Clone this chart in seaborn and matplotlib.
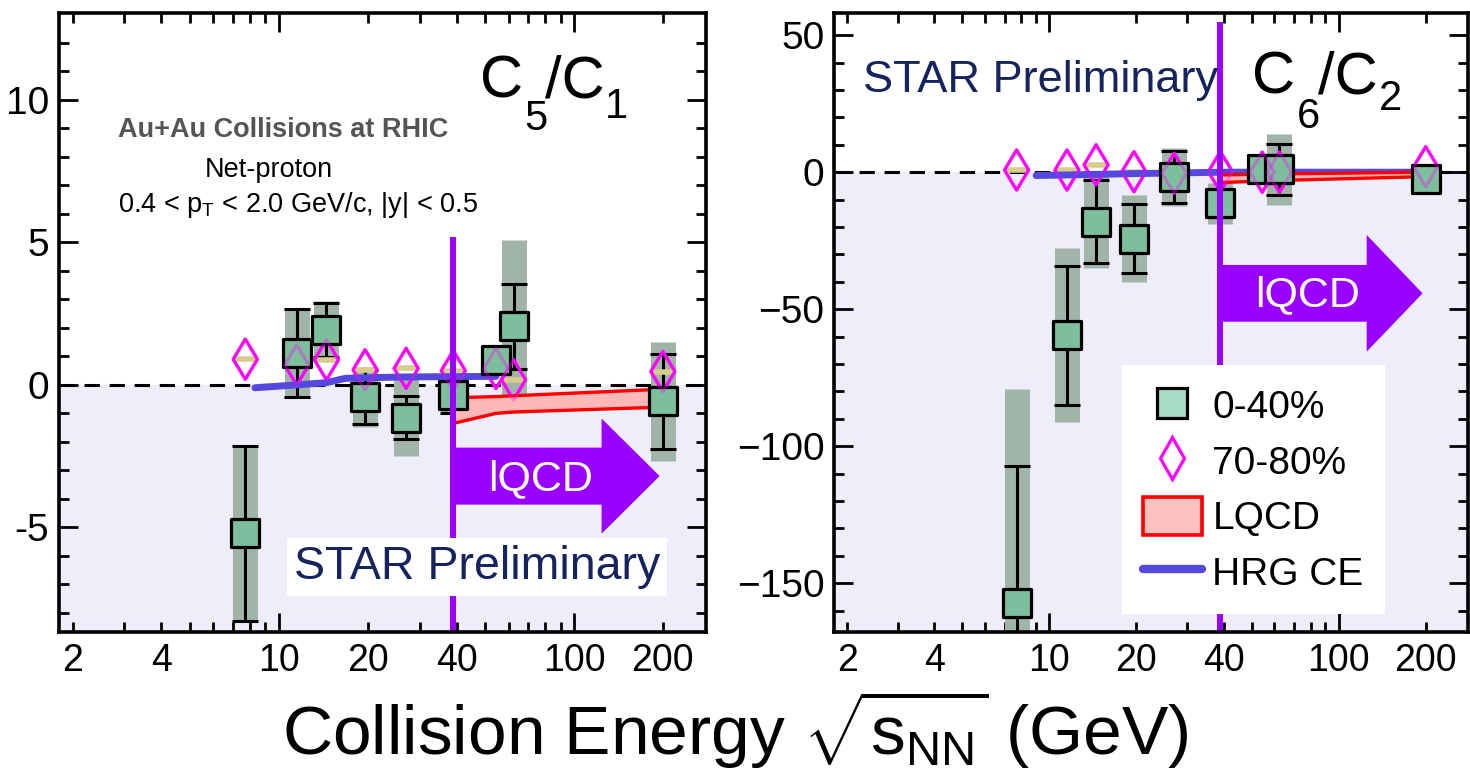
import numpy as np
import pandas as pd
import matplotlib
matplotlib.use("Agg")
import matplotlib.pyplot as plt
import seaborn as sns
from matplotlib.lines import Line2D
from matplotlib.patches import Patch
from matplotlib import font_manager as fm
from matplotlib.ticker import FixedLocator, FuncFormatter, NullFormatter

# ---------------- data ----------------
energies = [7.7, 11.5, 14.5, 19.6, 27, 39, 54.4, 62.4, 200]

# C5/C1, 0-40 %
c51_val = [-5.2, 1.13, 1.93, -0.41, -1.15, -0.35, 0.88, 2.05, -0.58]
c51_stat = [3.07, 1.55, 0.96, 0.95, 0.76, 0.65, 0.25, 1.5, 1.68]
c51_sys = [3.1, 1.55, 1.0, 1.05, 1.35, 0.65, 0.3, 3.05, 2.1]
# C5/C1, 70-80 %
c51_periph = [0.9, 0.7, 0.88, 0.53, 0.58, 0.5, 0.58, 0.18, 0.47]

# C6/C2, 0-40 %
c62_val = [-157.3, -59.5, -18.0, -24.2, -1.7, -11.4, 1.1, 1.1, -2.6]
c62_stat = [50.0, 25.3, 15.0, 12.5, 9.5, 5.0, 2.0, 9.3, 2.0]
c62_sys = [78.0, 31.7, 17.0, 16.0, 10.5, 7.5, 3.0, 13.0, 2.5]
# C6/C2, 70-80 %
c62_periph = [0.8, 0.8, 2.7, 0.2, -0.4, 0.2, 0.0, 0.0, 2.0]

# HRG CE curves
hrg51_e = [8.3, 11.5, 14.5, 16.8, 19.6, 27, 39, 54.4]
hrg51_v = [-0.1, 0.0, 0.08, 0.23, 0.25, 0.28, 0.29, 0.3]
hrg62_e = [9.0, 11.5, 14.5, 19.6, 27, 39, 54.4, 62.4, 200]
hrg62_v = [-1.2, -1.0, -0.8, -0.5, -0.3, 0.0, 0.0, 0.0, 0.0]

# LQCD bands
lqcd_e = [39, 54.4, 62.4, 200]
lqcd51_hi = [-0.45, -0.41, -0.38, -0.15]
lqcd51_lo = [-1.35, -1.0, -0.95, -0.78]
lqcd62_hi = [-1.0, -0.7, -0.6, 0.0]
lqcd62_lo = [-3.8, -3.2, -3.0, -1.6]

x_tick_labels = [2, 4, 10, 20, 40, 100, 200]
y51_ticks = [-5, 0, 5, 10]
y51_labels = ["-5", "0", "5", "10"]
y62_ticks = [-150, -100, -50, 0, 50]
y62_labels = ["\u2212150", "\u2212100", "\u221250", "0", "50"]

# ---------------- style ----------------
def pick(names):
    for n in names:
        try:
            fm.findfont(fm.FontProperties(family=n), fallback_to_default=False)
            return n
        except Exception:
            pass
    return "DejaVu Sans"

sns.set_theme(style="ticks")
FONT = pick(["Liberation Sans", "Arial"])
plt.rcParams["font.family"] = [FONT, "DejaVu Sans"]
plt.rcParams["mathtext.fontset"] = "custom"
plt.rcParams["mathtext.rm"] = FONT
plt.rcParams["mathtext.it"] = FONT
plt.rcParams["mathtext.sf"] = FONT
for k in ["text.color", "axes.labelcolor", "xtick.color", "ytick.color",
          "xtick.labelcolor", "ytick.labelcolor", "axes.edgecolor"]:
    plt.rcParams[k] = "black"

PURPLE = "#9900ff"
GREEN = (0.49, 0.745, 0.61)
GREEN_LEG = "#a8dcc4"
SYS = "#a0b5a8"
MAGENTA = "#ff00ff"
BLUE = "#5548dd"
RED = "#ff0000"
PINK = "#ffb8b8"
LAV = "#eeeefa"
NAVY = "#15245e"

W, H = 1470, 780
fig = plt.figure(figsize=(14.7, 7.8), dpi=100)
bottom = 1 - 631.7 / H
height = 618.4 / H
ax1 = fig.add_axes([59 / W, bottom, 647 / W, height])
ax2 = fig.add_axes([834 / W, bottom, 634 / W, height])

XLIM = (1.8, 280)


def draw_panel(ax, vals, stat, sysv, periph, hrg_e, hrg_v, lq_hi, lq_lo, ylim):
    ax.set_xscale("log")
    ax.axhspan(ylim[0] - 1000, 0, color=LAV, zorder=0, lw=0)
    ax.axhline(0, color="black", lw=2.2, dashes=(5, 3.2), zorder=1)
    # systematic bands
    ax.errorbar(energies, vals, yerr=sysv, fmt="none", ecolor=SYS,
                elinewidth=18, capsize=0, zorder=2)
    # stat error bars
    ax.errorbar(energies, vals, yerr=stat, fmt="none", ecolor="black",
                elinewidth=2.2, capsize=9.5, capthick=2.2, zorder=3)
    # peripheral diamonds (bright, below squares)
    ax.plot(energies, periph, ls="none", marker="_", ms=16, mew=4,
            color="#d8cc8c", zorder=3.2)
    sns.scatterplot(x=energies, y=periph, marker="d", s=420,
                    facecolors="none", edgecolor=MAGENTA, linewidth=2.3,
                    ax=ax, zorder=3.3, legend=False)
    # HRG CE
    sns.lineplot(x=hrg_e, y=hrg_v, color=BLUE, lw=5, ax=ax, zorder=3.5,
                 estimator=None, sort=True)
    # LQCD band
    ax.fill_between(lqcd_e, lq_lo, lq_hi, color=PINK, lw=0, zorder=3.6)
    ax.plot(lqcd_e, lq_hi, color=RED, lw=2.4, zorder=3.7)
    ax.plot(lqcd_e, lq_lo, color=RED, lw=2.4, zorder=3.7)
    # central squares
    sns.scatterplot(x=energies, y=vals, marker="s", s=380,
                    facecolor=GREEN, edgecolor="black", linewidth=2.3,
                    ax=ax, zorder=5, legend=False)
    # faint diamonds visible through squares
    sns.scatterplot(x=energies, y=periph, marker="d", s=420,
                    facecolors="none", edgecolor=(1, 0, 1, 0.35), linewidth=2.3,
                    ax=ax, zorder=5.1, legend=False)
    ax.set_xlim(*XLIM)
    ax.set_ylim(*ylim)

    # x ticks
    ax.xaxis.set_major_locator(FixedLocator([10, 100]))
    ax.xaxis.set_major_formatter(FuncFormatter(lambda v, p: "%d" % round(v)))
    minors = [2, 3, 4, 5, 6, 7, 8, 9, 20, 30, 40, 50, 60, 70, 80, 90, 200]
    ax.xaxis.set_minor_locator(FixedLocator(minors))
    ax.xaxis.set_minor_formatter(FuncFormatter(
        lambda v, p: ("%d" % round(v)) if round(v) in x_tick_labels else ""))
    ax.tick_params(axis="both", which="both", direction="in", top=True,
                   right=True, width=2.0, color="black", labelcolor="black")
    ax.tick_params(axis="both", which="major", length=14)
    ax.tick_params(axis="both", which="minor", length=7.5)
    ax.tick_params(axis="x", which="both", labelsize=27, pad=8)
    ax.tick_params(axis="y", which="both", labelsize=28, pad=7)
    for s in ax.spines.values():
        s.set_linewidth(2.6)
        s.set_color("black")
        s.set_zorder(10)
    ax.set_xlabel("")
    ax.set_ylabel("")
    ax.grid(False)


# ---------------- left panel ----------------
draw_panel(ax1, c51_val, c51_stat, c51_sys, c51_periph, hrg51_e, hrg51_v,
           lqcd51_hi, lqcd51_lo, (-8.66, 13.04))
ax1.yaxis.set_major_locator(FixedLocator(y51_ticks))
ax1.yaxis.set_major_formatter(FuncFormatter(
    lambda v, p: y51_labels[y51_ticks.index(int(round(v)))]))
ax1.yaxis.set_minor_locator(FixedLocator(np.arange(-8, 13, 1)))
ax1.yaxis.set_minor_formatter(NullFormatter())

# ---------------- right panel ----------------
draw_panel(ax2, c62_val, c62_stat, c62_sys, c62_periph, hrg62_e, hrg62_v,
           lqcd62_hi, lqcd62_lo, (-167.7, 58.0))
ax2.yaxis.set_major_locator(FixedLocator(y62_ticks))
ax2.yaxis.set_major_formatter(FuncFormatter(
    lambda v, p: y62_labels[y62_ticks.index(int(round(v)))]))
ax2.yaxis.set_minor_locator(FixedLocator(np.arange(-160, 60, 10)))
ax2.yaxis.set_minor_formatter(NullFormatter())

# ---------------- annotations ----------------
QCD_X = 39


def arrow(ax, x0, xh, xt, ymid, bh, hh, ytop_line, ybot_line, tx, ty):
    ax.plot([x0, x0], [ybot_line, ytop_line], color=PURPLE, lw=4.3, zorder=6,
            solid_capstyle="butt")
    xs = [x0, xh, xh, xt, xh, xh, x0]
    ys = [ymid + bh, ymid + bh, ymid + hh, ymid, ymid - hh, ymid - bh, ymid - bh]
    ax.fill(xs, ys, color=PURPLE, lw=0, zorder=6)
    ax.text(tx, ty, "lQCD", color="white", fontsize=31, ha="center",
            va="center", zorder=7)


arrow(ax1, QCD_X, 124, 195, -3.2, 1.0, 2.02, 5.2, -9, 77, -3.3)
arrow(ax2, QCD_X, 125, 195, -44.2, 10.35, 21.3, 55, -170, 78, -45)


def ftext(px, py, s, **kw):
    """Place text at a pixel position of the 1470x780 canvas."""
    return fig.text(px / W, 1 - py / H, s, ha="left", va="baseline",
                    zorder=8, **kw)


# panel titles C5/C1 and C6/C2 (big letters with large, lowered indices)
ftext(480, 98, "C", fontsize=43)
ftext(524, 130, "5", fontsize=30)
ftext(545, 98, "/C", fontsize=43)
ftext(605, 118, "1", fontsize=30)

ftext(1252, 93, "C", fontsize=43)
ftext(1297, 128, "6", fontsize=30)
ftext(1318, 93, "/C", fontsize=43)
ftext(1379, 110, "2", fontsize=30)

ax1.text(0.091, 0.811, "Au+Au Collisions at RHIC", transform=ax1.transAxes,
         fontsize=19.5, fontweight="bold", color="#555555", ha="left",
         va="center", zorder=8)
ax1.text(0.226, 0.747, "Net-proton", transform=ax1.transAxes,
         fontsize=19.5, color="black", ha="left", va="center", zorder=8)
ax1.text(0.091, 0.69, r"0.4 < $\mathregular{p_T}$ < 2.0 GeV/c, |y| < 0.5",
         transform=ax1.transAxes, fontsize=19.5, color="black", ha="left",
         va="center", zorder=8)

ax1.text(0.363, 0.105, "STAR Preliminary", transform=ax1.transAxes,
         fontsize=33.5, color=NAVY, ha="left", va="center", zorder=8,
         bbox=dict(facecolor="white", edgecolor="none", pad=5))
ax2.text(0.0456, 0.892, "STAR Preliminary", transform=ax2.transAxes,
         fontsize=32.5, color=NAVY, ha="left", va="center", zorder=8)

# legend
handles = [
    Line2D([], [], ls="none", marker="s", ms=22, mfc=GREEN_LEG, mec="black", mew=2.3),
    Line2D([], [], ls="none", marker="d", ms=21, mfc="none", mec=MAGENTA, mew=2.3),
    Patch(facecolor="#ffc0c0", edgecolor=RED, lw=2.6),
    Line2D([], [], color=BLUE, lw=6),
]
labels = ["0-40%", "70-80%", "LQCD", "HRG CE"]
leg = ax2.legend(handles, labels, loc="upper left", bbox_to_anchor=(0.454, 0.431),
                 fontsize=28, frameon=True, fancybox=False, framealpha=1,
                 edgecolor="none", facecolor="white", handlelength=1.5,
                 handleheight=1.1, handletextpad=0.28, labelspacing=0.4,
                 borderpad=0.55, borderaxespad=0)
leg.set_zorder(9)
for t in leg.get_texts():
    t.set_color("black")

fig.text(0.5, 1 - 755 / H, r"Collision Energy $\sqrt{\mathregular{s_{NN}}}$ (GeV)",
         fontsize=50, ha="center", va="baseline")

fig.savefig("out.png", dpi=100)
